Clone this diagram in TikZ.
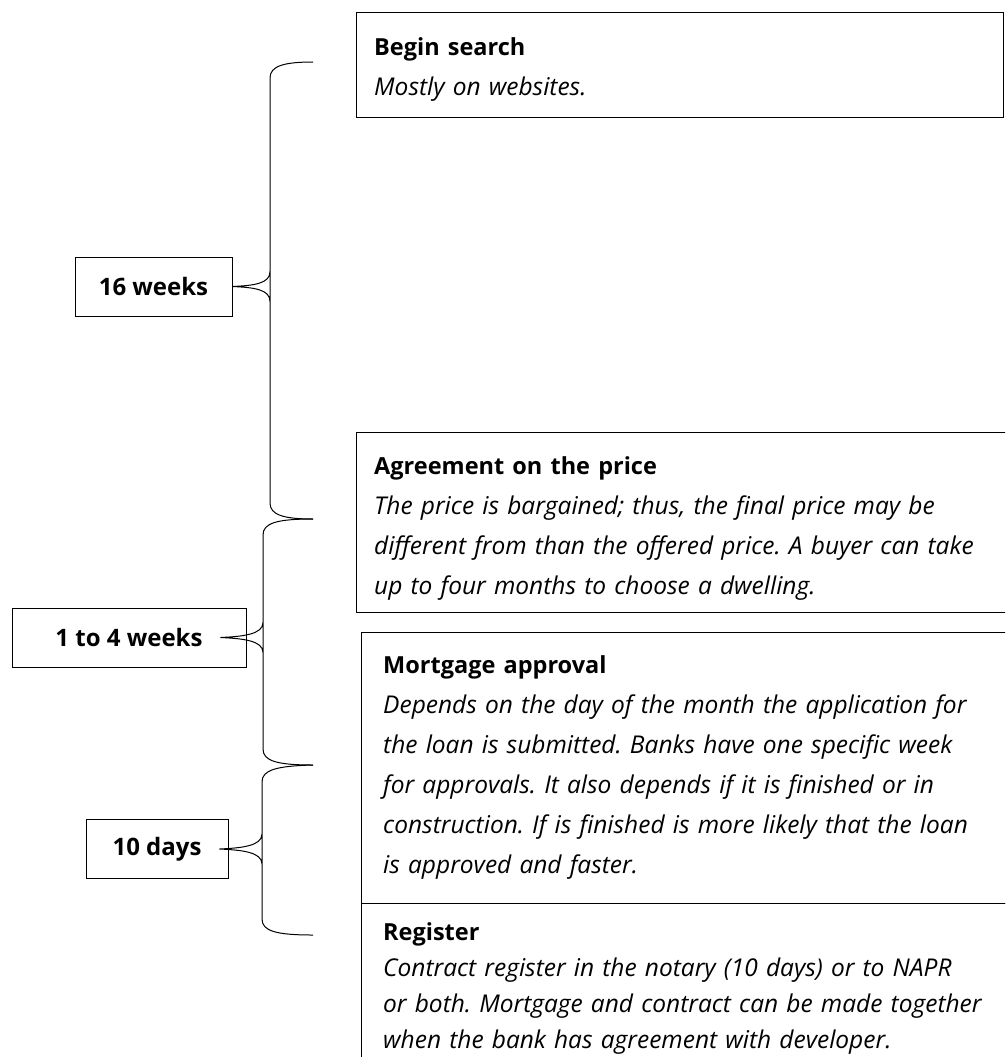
\documentclass[tikz,border=0pt]{standalone}
\usepackage{fontspec}
\setmainfont{Open Sans}
\newcommand{\ttl}[1]{{\upshape\bfseries\fontsize{23.5}{40}\selectfont #1}}
\begin{document}
\frenchspacing
\begin{tikzpicture}[x=1pt,y=-1pt,
  stagebox/.style={draw, line width=0.9pt, anchor=north west, inner sep=0pt},
  durbox/.style={draw, line width=0.9pt, inner sep=0pt, minimum height=59pt,
    font=\bfseries\fontsize{24}{28}\selectfont},
  txt/.style={anchor=north west, inner sep=0pt, text width=660pt, align=left,
    font=\itshape\fontsize{24.5}{40}\selectfont},
  tighttxt/.style={txt, font=\itshape\fontsize{24.5}{36}\selectfont},
  brace/.style={line width=1pt}]
\useasboundingbox (0,0) rectangle (1005,1057);
\clip (0,0) rectangle (1005,1057);

% stage boxes
\node[stagebox, minimum width=647pt, minimum height=105pt] (bs) at (356,12) {};
\node[stagebox, minimum width=700pt, minimum height=180pt] (ag) at (356,432) {};
\node[stagebox, minimum width=700pt, minimum height=271pt] (mo) at (361,632) {};
\node[stagebox, minimum width=700pt, minimum height=250pt] (re) at (361,903) {};

% stage texts (first baseline = y + 30)
\node[txt] (bstext) at (374,25) {\rule{0pt}{30pt}\ttl{Begin search}\\
  Mostly on websites.};
\node[txt] (agtext) at (374,444) {\rule{0pt}{30pt}\ttl{Agreement on the price}\\
  The price is bargained; thus, the final price may be\\
  different from than the offered price. A buyer can take\\
  up to four months to choose a dwelling.};
\node[txt] (motext) at (383,643) {\rule{0pt}{30pt}\ttl{Mortgage approval}\\
  Depends on the day of the month the application for\\
  the loan is submitted. Banks have one specific week\\
  for approvals. It also depends if it is finished or in\\
  construction. If is finished is more likely that the loan\\
  is approved and faster.};
\node[tighttxt] (retext) at (383,910) {\rule{0pt}{30pt}\ttl{Register}\\
  Contract register in the notary (10 days) or to NAPR\\
  or both. Mortgage and contract can be made together\\
  when the bank has agreement with developer.};

% duration boxes
\node[durbox, minimum width=157pt] (d1) at (153.5,286.5) {16 weeks};
\node[durbox, minimum width=234pt] (d2) at (129,637.5) {1 to 4 weeks};
\node[durbox, minimum width=142pt] (d3) at (157,849) {10 days};

% brace end points
\coordinate (t1) at (313,62);
\coordinate (p1) at (d1.east);
\coordinate (b1) at (313,519);
\coordinate (p2) at ([xshift=-26pt]d2.east);
\coordinate (b2) at (313,765);
\coordinate (p3) at ([xshift=-9pt]d3.east);
\coordinate (b3) at (313,935);

\draw[brace] (t1) .. controls (284,62) and (270,66) .. (270,78)
  -- ([yshift=-15pt]270,0 |- p1) .. controls ([yshift=-3pt]270,0 |- p1) and ([xshift=22pt,yshift=-1pt]p1) .. (p1)
  .. controls ([xshift=22pt,yshift=1pt]p1) and ([yshift=3pt]270,0 |- p1) .. ([yshift=15pt]270,0 |- p1)
  -- (270,503) .. controls (270,515) and (284,519) .. (b1);
\draw[brace] (b1) .. controls (277,519) and (263,523) .. (263,535)
  -- ([yshift=-15pt]263,0 |- p2) .. controls ([yshift=-3pt]263,0 |- p2) and ([xshift=22pt,yshift=-1pt]p2) .. (p2)
  .. controls ([xshift=22pt,yshift=1pt]p2) and ([yshift=3pt]263,0 |- p2) .. ([yshift=15pt]263,0 |- p2)
  -- (263,749) .. controls (263,761) and (277,765) .. (b2);
\draw[brace] (b2) .. controls (276,766) and (262,770) .. (262,782)
  -- ([yshift=-15pt]262,0 |- p3) .. controls ([yshift=-3pt]262,0 |- p3) and ([xshift=22pt,yshift=-1pt]p3) .. (p3)
  .. controls ([xshift=22pt,yshift=1pt]p3) and ([yshift=3pt]262,0 |- p3) .. ([yshift=15pt]262,0 |- p3)
  -- (262,919) .. controls (262,931) and (276,935) .. (b3);
\end{tikzpicture}
\end{document}
